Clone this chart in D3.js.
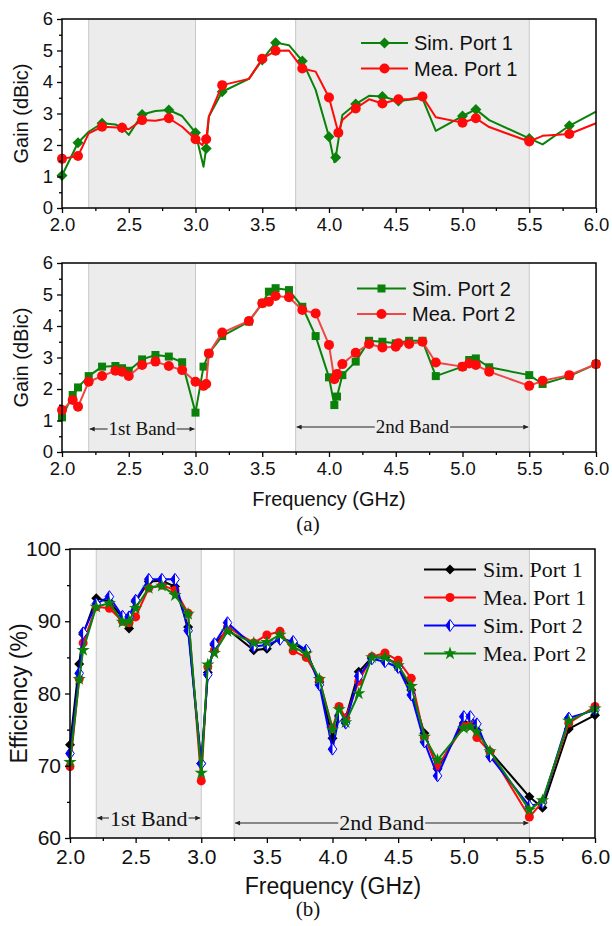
<!DOCTYPE html>
<html>
<head>
<meta charset="utf-8">
<script src="https://cdn.jsdelivr.net/npm/d3@7"></script>
<style>
  body { margin: 0; background: #fff; }
  text { fill: #111; }
</style>
</head>
<body>
<div id="chart"></div>
<script>
// ---- data ----
// (a) top: port 1 gain
const simP1Freq = [2.0, 2.12, 2.2, 2.3, 2.4, 2.45, 2.5, 2.6, 2.7, 2.8, 2.9, 3.0, 3.06, 3.08, 3.1, 3.2, 3.4, 3.5, 3.6, 3.7, 3.8, 3.9, 4.0, 4.04, 4.05, 4.1, 4.2, 4.3, 4.4, 4.52, 4.7, 4.8, 5.0, 5.1, 5.2, 5.5, 5.6, 5.8, 6.0];
const simP1Gain = [1.03, 2.07, 2.42, 2.69, 2.65, 2.55, 2.32, 2.97, 3.08, 3.11, 2.92, 2.39, 1.31, 1.89, 2.9, 3.69, 4.1, 4.70, 5.25, 5.17, 4.67, 3.75, 2.26, 1.45, 1.6, 2.95, 3.30, 3.56, 3.54, 3.40, 3.48, 2.45, 2.92, 3.13, 2.79, 2.21, 2.02, 2.61, 3.06];
const simP1Marked = [2.0, 2.12, 2.3, 2.45, 2.6, 2.8, 3.0, 3.08, 3.2, 3.5, 3.6, 3.8, 4.0, 4.05, 4.2, 4.4, 4.52, 5.0, 5.1, 5.5, 5.8];

const meaP1Freq = [2.0, 2.12, 2.2, 2.3, 2.45, 2.5, 2.6, 2.7, 2.8, 2.9, 3.0, 3.05, 3.08, 3.1, 3.2, 3.4, 3.5, 3.6, 3.7, 3.8, 3.9, 4.0, 4.07, 4.1, 4.2, 4.3, 4.4, 4.52, 4.6, 4.7, 4.8, 5.0, 5.1, 5.2, 5.5, 5.6, 5.8, 6.0];
const meaP1Gain = [1.56, 1.65, 2.37, 2.58, 2.55, 2.5, 2.79, 2.77, 2.85, 2.58, 2.18, 2.0, 2.18, 2.9, 3.90, 4.1, 4.74, 4.99, 5.0, 4.43, 4.33, 3.51, 2.39, 2.79, 3.16, 3.45, 3.32, 3.45, 3.45, 3.54, 2.88, 2.71, 2.85, 2.57, 2.11, 2.29, 2.35, 2.69];
const meaP1Marked = [2.0, 2.12, 2.3, 2.45, 2.6, 2.8, 3.0, 3.08, 3.2, 3.5, 3.6, 3.8, 4.0, 4.07, 4.2, 4.4, 4.52, 4.7, 5.0, 5.1, 5.5, 5.8];

// (a) bottom: port 2 gain
const simP2Freq = [2.0, 2.08, 2.12, 2.2, 2.3, 2.4, 2.45, 2.5, 2.6, 2.7, 2.8, 2.9, 3.0, 3.06, 3.1, 3.2, 3.4, 3.5, 3.55, 3.6, 3.7, 3.8, 3.9, 4.0, 4.04, 4.06, 4.1, 4.2, 4.3, 4.4, 4.5, 4.6, 4.7, 4.8, 5.0, 5.05, 5.1, 5.2, 5.5, 5.6, 5.8, 6.0];
const simP2Gain = [1.10, 1.81, 2.05, 2.41, 2.71, 2.73, 2.66, 2.58, 2.94, 3.08, 3.03, 2.85, 1.25, 2.71, 3.13, 3.68, 4.14, 4.72, 5.09, 5.20, 5.14, 4.61, 3.68, 2.37, 1.49, 1.76, 2.44, 2.87, 3.53, 3.50, 3.45, 3.53, 3.53, 2.41, 2.71, 2.92, 2.97, 2.69, 2.44, 2.16, 2.41, 2.79];

const meaP2Freq = [2.0, 2.08, 2.12, 2.2, 2.3, 2.4, 2.45, 2.5, 2.6, 2.7, 2.8, 2.9, 3.0, 3.06, 3.08, 3.1, 3.2, 3.4, 3.5, 3.55, 3.6, 3.7, 3.8, 3.9, 4.0, 4.04, 4.06, 4.1, 4.2, 4.3, 4.4, 4.5, 4.52, 4.6, 4.7, 4.8, 5.0, 5.05, 5.1, 5.2, 5.5, 5.6, 5.8, 6.0];
const meaP2Gain = [1.33, 1.65, 1.44, 2.23, 2.41, 2.58, 2.55, 2.41, 2.76, 2.87, 2.73, 2.60, 2.23, 2.10, 2.16, 3.13, 3.79, 4.16, 4.72, 4.77, 4.95, 4.91, 4.51, 4.40, 3.40, 2.31, 2.48, 2.79, 3.15, 3.43, 3.32, 3.34, 3.45, 3.43, 3.50, 2.84, 2.71, 2.81, 2.76, 2.55, 2.10, 2.26, 2.44, 2.79];

// (b): efficiency, all four curves share the frequency points
const effFreq = [2.0, 2.07, 2.1, 2.2, 2.3, 2.4, 2.45, 2.5, 2.6, 2.7, 2.8, 2.9, 3.0, 3.05, 3.1, 3.2, 3.4, 3.5, 3.6, 3.7, 3.8, 3.9, 4.0, 4.05, 4.1, 4.2, 4.3, 4.4, 4.5, 4.6, 4.7, 4.8, 5.0, 5.05, 5.1, 5.2, 5.5, 5.6, 5.8, 6.0];
const effSimP1 = [72.9, 84.1, 88.2, 93.2, 92.7, 90.5, 89.0, 92.7, 95.5, 95.6, 94.8, 89.2, 70.3, 82.9, 86.7, 88.9, 86.0, 86.2, 87.8, 87.0, 85.8, 81.6, 73.8, 77.0, 76.6, 83.0, 85.0, 85.0, 84.0, 80.5, 74.5, 69.6, 75.9, 75.8, 74.9, 72.0, 65.7, 64.2, 75.1, 77.0];
const effMeaP1 = [69.9, 82.0, 87.0, 92.0, 91.8, 90.0, 89.8, 90.6, 94.6, 95.0, 94.3, 91.1, 67.9, 83.7, 86.0, 89.2, 87.0, 88.1, 88.6, 85.9, 85.0, 81.9, 75.2, 78.2, 76.6, 81.7, 85.1, 85.6, 84.6, 82.1, 73.9, 69.9, 75.5, 75.6, 73.9, 71.9, 62.9, 65.0, 75.9, 78.2];
const effSimP2 = [71.7, 82.8, 88.4, 92.4, 93.4, 90.7, 90.6, 92.9, 95.8, 95.8, 95.8, 88.7, 70.3, 82.6, 86.9, 89.8, 86.5, 86.7, 87.5, 87.2, 86.0, 81.2, 72.3, 76.8, 75.9, 82.4, 84.8, 84.4, 83.6, 79.8, 73.3, 68.6, 76.8, 76.8, 75.8, 71.3, 64.4, 64.9, 76.6, 77.7];
const effMeaP2 = [70.5, 82.0, 86.0, 92.0, 92.5, 89.9, 90.0, 91.8, 94.6, 94.9, 93.6, 91.0, 69.0, 84.0, 85.6, 88.6, 87.0, 87.1, 88.1, 86.5, 85.5, 82.0, 75.0, 77.8, 76.0, 80.0, 85.0, 85.0, 83.9, 81.0, 74.0, 70.8, 75.2, 75.4, 74.7, 72.0, 63.9, 65.2, 76.2, 77.9];

const xTicks = [2.0, 2.5, 3.0, 3.5, 4.0, 4.5, 5.0, 5.5, 6.0];
const gainTicks = [0, 1, 2, 3, 4, 5, 6];
const effTicks = [60, 70, 80, 90, 100];

// ---- drawing ----
const width = 612, height = 926;
const SANS = '"Liberation Sans", Arial, sans-serif';
const SERIF = '"Liberation Serif", "Times New Roman", serif';

const svg = d3.select('#chart').append('svg')
  .attr('width', width)
  .attr('height', height);

const defs = svg.append('defs');
['start', 'end'].forEach(k => {
  defs.append('marker')
    .attr('id', 'arr-' + k)
    .attr('viewBox', '0 0 10 10')
    .attr('refX', k === 'end' ? 10 : 0).attr('refY', 5)
    .attr('markerWidth', 9).attr('markerHeight', 5)
    .attr('markerUnits', 'userSpaceOnUse')
    .attr('orient', 'auto')
    .append('path')
    .attr('d', k === 'end' ? 'M0,0L10,5L0,10Z' : 'M10,0L0,5L10,10Z')
    .attr('fill', '#222');
});

const zip = (xs, ys) => xs.map((v, i) => [v, ys[i]]);

function drawMarker(g, type, color, cx, cy, s) {
  if (type === 'diamond') {
    g.append('path').attr('d', `M${cx},${cy - s}L${cx + s},${cy}L${cx},${cy + s}L${cx - s},${cy}Z`)
      .attr('fill', color);
  } else if (type === 'circle') {
    g.append('circle').attr('cx', cx).attr('cy', cy).attr('r', s).attr('fill', color);
  } else if (type === 'square') {
    g.append('rect').attr('x', cx - s).attr('y', cy - s).attr('width', 2 * s).attr('height', 2 * s).attr('fill', color);
  } else if (type === 'half') {
    const w = s * 0.72;
    g.append('path').attr('d', `M${cx},${cy - s}L${cx + w},${cy}L${cx},${cy + s}L${cx - w},${cy}Z`)
      .attr('fill', '#fff').attr('stroke', color).attr('stroke-width', 1);
    g.append('path').attr('d', `M${cx},${cy - s}L${cx},${cy + s}L${cx - w},${cy}Z`).attr('fill', color);
  } else if (type === 'star') {
    g.append('path').attr('d', d3.symbol(d3.symbolStar, s * s * 2.2)())
      .attr('transform', `translate(${cx},${cy})`).attr('fill', color);
  }
}

function makePanel(o) {
  const x = d3.scaleLinear().domain([2, 6]).range([o.left, o.right]);
  const y = d3.scaleLinear().domain(o.yDomain).range([o.bottom, o.top]);
  const g = svg.append('g');

  // shaded bands
  o.bands.forEach(b => {
    g.append('rect')
      .attr('x', x(b[0])).attr('y', o.top)
      .attr('width', x(b[1]) - x(b[0])).attr('height', o.bottom - o.top)
      .attr('fill', '#ececec');
    b.forEach(v => g.append('line')
      .attr('x1', x(v)).attr('x2', x(v)).attr('y1', o.top).attr('y2', o.bottom)
      .attr('stroke', '#c8c8c8').attr('stroke-width', 1));
  });
  return {g, x, y, o};
}

function drawAxes(p) {
  const {g, x, y, o} = p;
  const minorX = d3.range(2, 6.01, 0.25).filter(v => Math.abs(v * 2 - Math.round(v * 2)) > 1e-6);
  const xAx = g.append('g').attr('transform', `translate(0,${o.bottom})`)
    .call(d3.axisBottom(x).tickValues(xTicks).tickSize(5).tickPadding(o.xPad).tickFormat(d3.format('.1f')));
  const xMin = g.append('g').attr('transform', `translate(0,${o.bottom})`)
    .call(d3.axisBottom(x).tickValues(minorX).tickSize(3).tickFormat(''));
  const yAx = g.append('g').attr('transform', `translate(${o.left},0)`)
    .call(d3.axisLeft(y).tickValues(o.yTicks).tickSize(5).tickPadding(o.yPad).tickFormat(d3.format('d')));
  const yMin = g.append('g').attr('transform', `translate(${o.left},0)`)
    .call(d3.axisLeft(y).tickValues(o.yMinor).tickSize(3).tickFormat(''));
  [xAx, xMin, yAx, yMin].forEach(a => {
    a.select('.domain').remove();
    a.selectAll('line').attr('stroke', '#000').attr('stroke-width', 1.3);
    a.selectAll('text').attr('font-family', SANS).attr('font-size', o.tickFont).attr('fill', '#111');
  });
  g.append('rect')
    .attr('x', o.left).attr('y', o.top)
    .attr('width', o.right - o.left).attr('height', o.bottom - o.top)
    .attr('fill', 'none').attr('stroke', '#000').attr('stroke-width', 1.5);
  // y label
  g.append('text')
    .attr('transform', `translate(${o.yLabelX},${(o.top + o.bottom) / 2}) rotate(-90)`)
    .attr('text-anchor', 'middle')
    .attr('font-family', SANS).attr('font-size', o.labelFont)
    .text(o.yLabel);
}

function drawSeries(p, s) {
  const {g, x, y} = p;
  const pts = zip(s.freq, s.vals);
  const line = d3.line().x(d => x(d[0])).y(d => y(d[1])).curve(d3.curveLinear);
  g.append('path').attr('d', line(pts))
    .attr('fill', 'none').attr('stroke', s.lineColor || s.color)
    .attr('stroke-width', s.lw || 2).attr('stroke-linejoin', 'round');
  const mk = g.append('g');
  pts.filter(d => !s.marked || s.marked.some(m => Math.abs(m - d[0]) < 1e-6))
    .forEach(d => drawMarker(mk, s.marker, s.color, x(d[0]), y(d[1]), s.size));
}

function drawLegend(p, items, o) {
  items.forEach((s, i) => {
    const yy = o.y0 + i * o.dy;
    p.g.append('line').attr('x1', o.x0).attr('x2', o.x1).attr('y1', yy).attr('y2', yy)
      .attr('stroke', s.lineColor || s.color).attr('stroke-width', s.lw || 2);
    drawMarker(p.g, s.marker, s.color, (o.x0 + o.x1) / 2, yy, s.size);
    p.g.append('text').attr('x', o.tx).attr('y', yy).attr('dy', '0.35em')
      .attr('font-family', o.font).attr('font-size', o.fontSize)
      .text(s.name);
  });
}

function bandLabel(p, b, text, yArrow, baseline, fontSize) {
  const {g, x} = p;
  const cx = (x(b[0]) + x(b[1])) / 2;
  const t = g.append('text').attr('x', cx).attr('y', baseline)
    .attr('text-anchor', 'middle').attr('font-family', SERIF).attr('font-size', fontSize)
    .text(text);
  const w = t.node().getComputedTextLength();
  g.append('line').attr('x1', cx - w / 2 - 1).attr('x2', x(b[0]) + 1).attr('y1', yArrow).attr('y2', yArrow)
    .attr('stroke', '#222').attr('stroke-width', 1).attr('marker-end', 'url(#arr-end)');
  g.append('line').attr('x1', cx + w / 2 + 1).attr('x2', x(b[1]) - 1).attr('y1', yArrow).attr('y2', yArrow)
    .attr('stroke', '#222').attr('stroke-width', 1).attr('marker-end', 'url(#arr-end)');
}

// ---- panel (a) top ----
const gainOpts = {
  left: 62, right: 596, yDomain: [0, 6], yTicks: gainTicks,
  yMinor: d3.range(0.5, 6, 1), tickFont: '18.5px', labelFont: '20px',
  xPad: 5, yPad: 4, yLabel: 'Gain (dBic)', yLabelX: 28
};
const p1 = makePanel(Object.assign({}, gainOpts, {top: 19, bottom: 208, bands: [[2.2, 3.0], [3.75, 5.5]]}));
const s1 = {name: 'Sim. Port 1', freq: simP1Freq, vals: simP1Gain, marked: simP1Marked, color: '#0a820a', marker: 'diamond', size: 5.5};
const s2 = {name: 'Mea. Port 1', freq: meaP1Freq, vals: meaP1Gain, marked: meaP1Marked, color: '#ff0a0a', marker: 'circle', size: 5};
drawSeries(p1, s1);
drawSeries(p1, s2);
drawAxes(p1);
drawLegend(p1, [s1, s2], {x0: 361, x1: 408, y0: 43, dy: 25.5, tx: 414, font: SANS, fontSize: '20px'});

// ---- panel (a) bottom ----
const p2 = makePanel(Object.assign({}, gainOpts, {top: 263, bottom: 452, bands: [[2.2, 3.0], [3.75, 5.5]]}));
bandLabel(p2, [2.2, 3.0], '1st Band', 429, 435, '19px');
bandLabel(p2, [3.75, 5.5], '2nd Band', 427, 433, '19px');
const s3 = {name: 'Sim. Port 2', freq: simP2Freq, vals: simP2Gain, color: '#0a820a', marker: 'square', size: 4};
const s4 = {name: 'Mea. Port 2', freq: meaP2Freq, vals: meaP2Gain, color: '#ff0a0a', lineColor: '#f04646', marker: 'circle', size: 5};
drawSeries(p2, s3);
drawSeries(p2, s4);
drawAxes(p2);
drawLegend(p2, [s3, s4], {x0: 357, x1: 406, y0: 288.5, dy: 25.5, tx: 412, font: SANS, fontSize: '20px'});

svg.append('text').attr('x', 329).attr('y', 506).attr('text-anchor', 'middle')
  .attr('font-family', SANS).attr('font-size', '20px').text('Frequency (GHz)');
svg.append('text').attr('x', 308).attr('y', 531).attr('text-anchor', 'middle')
  .attr('font-family', SERIF).attr('font-size', '21px').text('(a)');

// ---- panel (b) ----
const p3 = makePanel({
  left: 70, right: 595, top: 549, bottom: 838, yDomain: [60, 100], yTicks: effTicks,
  yMinor: [65, 75, 85, 95], tickFont: '21px', labelFont: '23px',
  xPad: 6, yPad: 4, yLabel: 'Efficiency (%)', yLabelX: 27,
  bands: [[2.2, 3.0], [3.25, 5.5]]
});
bandLabel(p3, [2.2, 3.0], '1st Band', 818, 826, '22px');
bandLabel(p3, [3.25, 5.5], '2nd Band', 823, 830, '22px');
const e1 = {name: 'Sim. Port 1', freq: effFreq, vals: effSimP1, color: '#000', marker: 'diamond', size: 5};
const e2 = {name: 'Mea. Port 1', freq: effFreq, vals: effMeaP1, color: '#ff0a0a', marker: 'circle', size: 4.5};
const e3 = {name: 'Sim. Port 2', freq: effFreq, vals: effSimP2, color: '#0000ff', marker: 'half', size: 6};
const e4 = {name: 'Mea. Port 2', freq: effFreq, vals: effMeaP2, color: '#0a820a', marker: 'star', size: 5};
[e1, e2, e3, e4].forEach(s => drawSeries(p3, s));
drawAxes(p3);
drawLegend(p3, [e1, e2, e3, e4], {x0: 424, x1: 476, y0: 569.5, dy: 28, tx: 483, font: SERIF, fontSize: '22px'});

svg.append('text').attr('x', 333).attr('y', 894).attr('text-anchor', 'middle')
  .attr('font-family', SANS).attr('font-size', '23px').text('Frequency (GHz)');
svg.append('text').attr('x', 308).attr('y', 916).attr('text-anchor', 'middle')
  .attr('font-family', SERIF).attr('font-size', '21px').text('(b)');
</script>
</body>
</html>
